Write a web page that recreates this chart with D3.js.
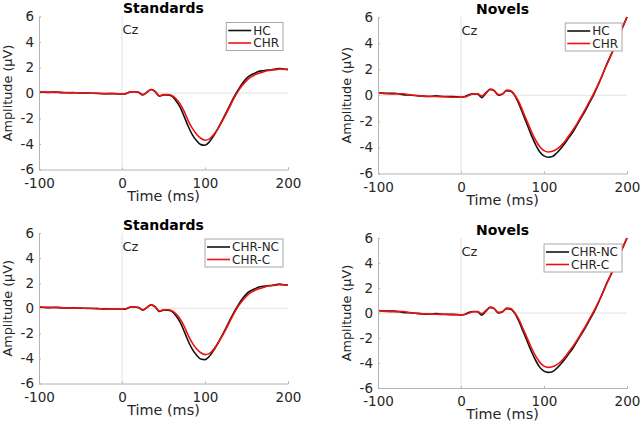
<!DOCTYPE html>
<html>
<head>
<meta charset="utf-8">
<script src="https://cdn.jsdelivr.net/npm/d3@7"></script>
<style>
  body { margin: 0; background: #fff; }
  text { font-family: "DejaVu Sans", sans-serif; fill: #262626; }
</style>
</head>
<body>
<svg></svg>
<script>
var width = 642,
  height = 422;

// time points (ms)
var times = [-100, -90, -80, -70, -60, -50, -40, -30, -20, -10, 0,
  5, 10, 15, 20, 25, 30, 35, 40, 45, 50, 55, 60, 65, 70, 75, 80, 85, 90, 95, 100,
  105, 110, 115, 120, 125, 130, 135, 140, 145, 150, 155, 160, 165, 170, 175, 180,
  185, 190, 195, 200];

// standards, amplitude (uV)
var stdBlack = [0.1, 0.05, 0.08, 0.02, 0.03, 0.0, 0.0, -0.03, -0.05, -0.05, -0.08,
  -0.05, 0.08, 0.1, 0.05, -0.15, 0.05, 0.27, 0.1, -0.25, -0.15, -0.15, -0.25, -0.6, -1.1,
  -1.85, -2.65, -3.3, -3.75, -4.05, -4.1, -3.85, -3.4, -2.85, -2.25, -1.6, -0.95, -0.3, 0.25,
  0.75, 1.15, 1.4, 1.55, 1.7, 1.75, 1.8, 1.82, 1.88, 1.92, 1.88, 1.85];
var stdRed = [0.12, 0.07, 0.05, 0.04, 0.01, 0.02, -0.02, -0.02, -0.06, -0.04, -0.07,
  -0.04, 0.1, 0.1, 0.06, -0.12, 0.07, 0.27, 0.12, -0.22, -0.13, -0.12, -0.2, -0.45, -0.85,
  -1.45, -2.2, -2.8, -3.25, -3.55, -3.7, -3.62, -3.3, -2.85, -2.3, -1.7, -1.05, -0.4, 0.15,
  0.6, 0.97, 1.25, 1.42, 1.55, 1.65, 1.75, 1.8, 1.83, 1.88, 1.86, 1.83];

// novels, amplitude (uV)
var novBlack = [0.2, 0.15, 0.15, 0.05, 0.0, -0.05, -0.1, -0.05, -0.1, -0.1, -0.15,
  -0.1, 0.05, 0.12, 0.1, -0.18, 0.15, 0.45, 0.35, 0.0, 0.1, 0.35, 0.3, -0.05, -0.7,
  -1.5, -2.3, -3.1, -3.8, -4.35, -4.65, -4.75, -4.7, -4.45, -4.1, -3.7, -3.25, -2.8, -2.25,
  -1.7, -1.15, -0.55, 0.05, 0.75, 1.5, 2.3, 3.0, 3.7, 4.5, 5.25, 6.0];
var novRed = [0.2, 0.12, 0.1, 0.12, 0.02, -0.05, -0.08, -0.1, -0.12, -0.15, -0.15,
  -0.12, 0.0, 0.1, 0.12, -0.05, 0.2, 0.45, 0.35, 0.05, 0.1, 0.4, 0.35, 0.0, -0.55,
  -1.3, -2.05, -2.8, -3.45, -3.95, -4.25, -4.35, -4.3, -4.15, -3.9, -3.55, -3.1, -2.65, -2.15,
  -1.6, -1.05, -0.45, 0.15, 0.8, 1.5, 2.25, 2.95, 3.7, 4.5, 5.25, 6.0];

var xTicks = [-100, 0, 100, 200];
var yTicks = [-6, -4, -2, 0, 2, 4, 6];
var titles = ["Standards", "Novels", "Standards", "Novels"];
var legendNames = [["HC", "CHR"], ["HC", "CHR"], ["CHR-NC", "CHR-C"], ["CHR-NC", "CHR-C"]];
var panelData = [[stdBlack, stdRed], [novBlack, novRed], [stdBlack, stdRed], [novBlack, novRed]];

// pixel boxes of the four axes: left, right, top, bottom
var boxes = [[39, 288, 16.5, 169.5], [378, 627, 17, 173.5], [39, 288, 233, 383.5], [378, 627, 238, 388]];
var colors = ["#111", "#ee1111"];

var svg = d3.select("svg")
  .attr("width", width)
  .attr("height", height);

boxes.forEach((b, i) => drawPanel(b, i));

function drawPanel(b, i) {
  var x = d3.scaleLinear().domain([-100, 200]).range([b[0], b[1]]);
  var y = d3.scaleLinear().domain([-6, 6]).range([b[3], b[2]]);
  var g = svg.append("g");

  g.append("clipPath").attr("id", "clip" + i)
    .append("rect").attr("x", b[0]).attr("y", b[2] - 1)
    .attr("width", b[1] - b[0] + 1).attr("height", b[3] - b[2] + 1);

  // zero lines
  g.append("line").attr("x1", b[0]).attr("x2", b[1]).attr("y1", y(0)).attr("y2", y(0))
    .attr("stroke", "#e2e2e2").attr("stroke-width", 1);
  g.append("line").attr("x1", x(0)).attr("x2", x(0)).attr("y1", b[2]).attr("y2", b[3])
    .attr("stroke", "#e2e2e2").attr("stroke-width", 1);

  var line = d3.line()
    .x((d, k) => x(times[k]))
    .y(d => y(d))
    .curve(d3.curveMonotoneX);

  g.append("g").attr("clip-path", "url(#clip" + i + ")")
    .selectAll("path")
    .data(panelData[i])
    .enter().append("path")
    .attr("d", line)
    .attr("fill", "none")
    .attr("stroke", (d, k) => colors[k])
    .attr("stroke-width", 1.6);

  // axes, plain hyphen for negatives like the original
  var fmt = d => String(d);
  var xAxis = d3.axisBottom(x).tickValues(xTicks).tickFormat(fmt).tickSize(-2).tickPadding(6);
  var yAxis = d3.axisLeft(y).tickValues(yTicks).tickFormat(fmt).tickSize(-2).tickPadding(5);
  var gx = g.append("g").attr("transform", "translate(0," + b[3] + ")").call(xAxis);
  var gy = g.append("g").attr("transform", "translate(" + b[0] + ",0)").call(yAxis);
  [gx, gy].forEach(a => {
    a.select(".domain").attr("stroke", "#b4b4b4");
    a.selectAll(".tick line").attr("stroke", "#b4b4b4");
    a.selectAll(".tick text").style("font-family", "DejaVu Sans").style("font-size", "13.5px").attr("fill", "#262626");
  });
  gx.selectAll(".tick text").attr("dy", "0.9em");

  // title
  g.append("text").attr("x", (b[0] + b[1]) / 2).attr("y", b[2] - 3.5)
    .attr("text-anchor", "middle").style("font-size", "14px").style("font-weight", "bold")
    .style("fill", "#000").text(titles[i]);

  g.append("text").attr("x", (b[0] + b[1]) / 2).attr("y", b[3] + 31)
    .attr("text-anchor", "middle").style("font-size", "14.4px").text("Time (ms)");

  g.append("text").attr("transform", "translate(" + (b[0] - 27) + "," + ((b[2] + b[3]) / 2) + ") rotate(-90)")
    .attr("text-anchor", "middle").style("font-size", "12.8px").text("Amplitude (µV)");

  g.append("text").attr("x", x(0) + 0.5).attr("y", b[2] + 17.5)
    .style("font-size", "13px").text("Cz");

  // legend
  var lg = g.append("g");
  var box = lg.append("rect").attr("fill", "#fff").attr("stroke", "#a8a8a8").attr("stroke-width", 1);
  var maxW = 0;
  legendNames[i].forEach((name, k) => {
    var t = lg.append("text").attr("x", 27).attr("y", 8 + k * 12.5).attr("dy", "0.35em")
      .style("font-size", "12px").text(name);
    maxW = Math.max(maxW, t.node().getComputedTextLength());
    lg.append("line").attr("x1", 2).attr("x2", 25).attr("y1", 8 + k * 12.5).attr("y2", 8 + k * 12.5)
      .attr("stroke", colors[k]).attr("stroke-width", 1.6);
  });
  var bw = maxW + 31;
  box.attr("x", 0).attr("y", 0).attr("width", bw).attr("height", 28);
  lg.attr("transform", "translate(" + (b[1] - 5 - bw) + "," + (b[2] + 6) + ")");
}
</script>
</body>
</html>
